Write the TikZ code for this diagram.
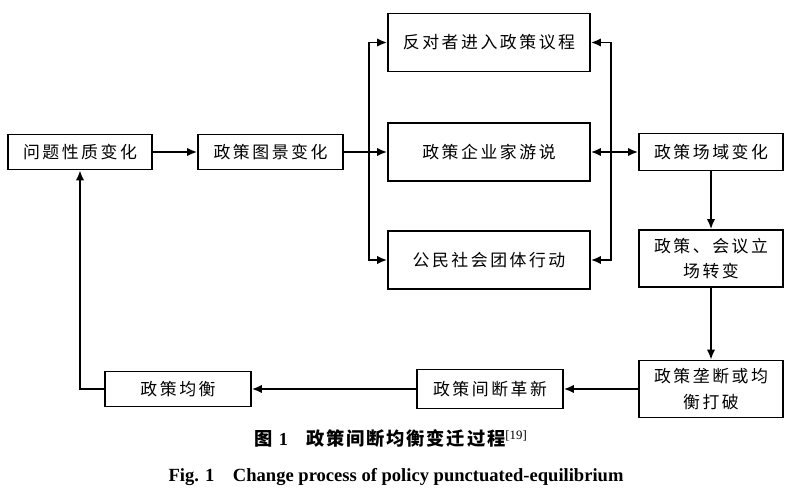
\documentclass[tikz,border=0pt]{standalone}
\usepackage{fontspec}
\setmainfont{Liberation Serif}
\newfontfamily\cjk[LetterSpace=15]{Noto Sans CJK SC}
\newfontfamily\cjkcap[LetterSpace=10]{Noto Sans CJK SC}
\usetikzlibrary{arrows.meta}

\begin{document}
\begin{tikzpicture}[x=0.025cm, y=-0.025cm,
    box/.style={draw, line width=1.1pt, inner sep=0pt, align=center,
        font=\cjk\fontsize{12}{18}\selectfont},
    link/.style={line width=1.4pt, -{Latex[length=2.5mm,width=2.1mm]}}]

    \useasboundingbox (0,0) rectangle (800,492);

    % Left row
    \node[box, minimum width=3.6cm, minimum height=0.875cm] (wenti) at (80,152) {问题性质变化};
    \node[box, minimum width=3.625cm, minimum height=0.875cm] (tujing) at (270.5,152) {政策图景变化};

    % Middle column
    \node[box, minimum width=5.05cm, minimum height=1.45cm] (fandui) at (489,42.5) {反对者进入政策议程};
    \node[box, minimum width=5.05cm, minimum height=1.45cm] (qiye) at (489,152) {政策企业家游说};
    \node[box, minimum width=5.05cm, minimum height=1.45cm] (gongmin) at (489,260) {公民社会团体行动};

    % Right column
    \node[box, minimum width=3.6cm, minimum height=0.925cm] (changyu) at (711,152) {政策场域变化};
    \node[box, minimum width=3.6cm, minimum height=1.425cm] (lichang) at (711,258.5) {政策、会议立\\场转变};
    \node[box, minimum width=3.6cm, minimum height=1.425cm] (longduan) at (711,389) {政策垄断或均\\衡打破};

    % Bottom row
    \node[box, minimum width=3.65cm, minimum height=0.975cm] (gexin) at (490,389) {政策间断革新};
    \node[box, minimum width=3.65cm, minimum height=0.875cm] (junheng) at (178,389) {政策均衡};

    % Junctions
    \coordinate (lj) at (369,152);
    \coordinate (rj) at (611,152);

    \draw[link] (wenti) -- (tujing);
    \draw[link] (tujing) -- (qiye);
    \draw[link] (lj) |- (fandui.west);
    \draw[link] (lj) |- (gongmin.west);
    \draw[link] (rj) |- (fandui.east);
    \draw[link] (rj) |- (gongmin.east);
    \draw[link] (rj) -- (qiye.east);
    \draw[link] (rj) -- (changyu.west);
    \draw[link] (changyu) -- (lichang);
    \draw[link] (lichang) -- (longduan);
    \draw[link] (longduan) -- (gexin);
    \draw[link] (gexin) -- (junheng);
    \draw[link] (junheng.west) -| (wenti.south);

    % Caption
    \node[font=\cjkcap\bfseries\fontsize{13}{16}\selectfont] (tuti) at (391,439)
        {图 {\rmfamily 1}\quad 政策间断均衡变迁过程\textsuperscript{\rmfamily\mdseries[19]}};
    \node[font=\bfseries\fontsize{13.2}{15}\selectfont] (figti) at (396,477)
        {Fig. 1\quad Change process of policy punctuated-equilibrium};

\end{tikzpicture}
\end{document}
